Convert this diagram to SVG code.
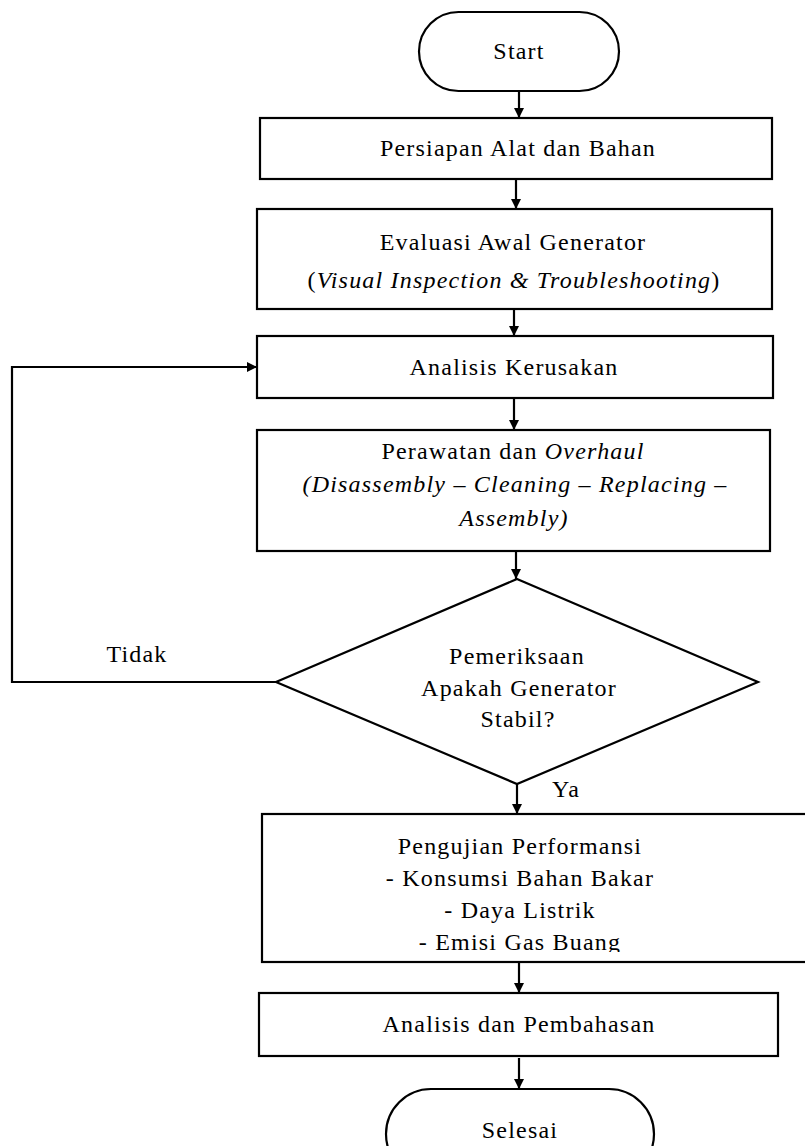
<svg xmlns="http://www.w3.org/2000/svg" width="805" height="1146" viewBox="0 0 805 1146">
<style>
.n{fill:#fff;stroke:#000;stroke-width:2.2}
.t{font-family:"Liberation Serif","Times New Roman",serif;font-size:24px;fill:#000;text-anchor:middle;letter-spacing:1.2px}
.i{font-style:italic}
.c{fill:none;stroke:#000;stroke-width:2.2}
</style>
<defs>
<marker id="ah" viewBox="0 0 10 10" refX="10" refY="5" markerWidth="12" markerHeight="10" markerUnits="userSpaceOnUse" orient="auto">
<path d="M0,0 L10,5 L0,10 Z" fill="#000"/>
</marker>
<clipPath id="clip5"><rect x="262" y="814" width="560" height="138"/></clipPath>
</defs>
<rect width="805" height="1146" fill="#fff"/>
<g id="connectors">
<path class="c" d="M519,91 V118" marker-end="url(#ah)"/>
<path class="c" d="M516,179 V209" marker-end="url(#ah)"/>
<path class="c" d="M514,309 V336" marker-end="url(#ah)"/>
<path class="c" d="M514,398 V430" marker-end="url(#ah)"/>
<path class="c" d="M516,551 V579" marker-end="url(#ah)"/>
<path class="c" d="M517,784 V814" marker-end="url(#ah)"/>
<path class="c" d="M519,962 V993" marker-end="url(#ah)"/>
<path class="c" d="M519,1058 V1089" marker-end="url(#ah)"/>
<path class="c" d="M276,682 H12 V367 H257" marker-end="url(#ah)"/>
<text class="t" x="137" y="662">Tidak</text>
<text class="t" x="566" y="797">Ya</text>
</g>
<g id="start">
<rect class="n" x="419" y="12" width="200" height="79" rx="39.5" ry="39.5"/>
<text class="t" x="519" y="59">Start</text>
</g>
<g id="persiapan">
<rect class="n" x="260" y="118" width="512" height="61"/>
<text class="t" x="518" y="156">Persiapan Alat dan Bahan</text>
</g>
<g id="evaluasi">
<rect class="n" x="257" y="209" width="515" height="100"/>
<text class="t" x="513" y="250">Evaluasi Awal Generator</text>
<text class="t" x="514" y="288">(<tspan class="i">Visual Inspection &amp; Troubleshooting</tspan>)</text>
</g>
<g id="analisis-kerusakan">
<rect class="n" x="257" y="336" width="516" height="62"/>
<text class="t" x="514" y="375">Analisis Kerusakan</text>
</g>
<g id="perawatan">
<rect class="n" x="257" y="430" width="513" height="121"/>
<text class="t" x="513" y="459">Perawatan dan <tspan class="i">Overhaul</tspan></text>
<text class="t i" x="515" y="492">(Disassembly – Cleaning – Replacing –</text>
<text class="t i" x="514" y="526">Assembly)</text>
</g>
<g id="pemeriksaan">
<polygon class="n" points="517,579 758,682 517,784 276,682"/>
<text class="t" x="517" y="664">Pemeriksaan</text>
<text class="t" x="519" y="696">Apakah Generator</text>
<text class="t" x="518" y="727">Stabil?</text>
</g>
<g id="pengujian">
<rect class="n" x="262" y="814" width="560" height="148"/>
<g clip-path="url(#clip5)">
<text class="t" x="520" y="854">Pengujian Performansi</text>
<text class="t" x="520" y="886">- Konsumsi Bahan Bakar</text>
<text class="t" x="520" y="918">- Daya Listrik</text>
<text class="t" x="520" y="950">- Emisi Gas Buang</text>
</g>
</g>
<g id="analisis-pembahasan">
<rect class="n" x="259" y="993" width="519" height="63"/>
<text class="t" x="519" y="1032">Analisis dan Pembahasan</text>
</g>
<g id="selesai">
<rect class="n" x="386" y="1089" width="268" height="90" rx="45" ry="45"/>
<text class="t" x="520" y="1138">Selesai</text>
</g>
</svg>
